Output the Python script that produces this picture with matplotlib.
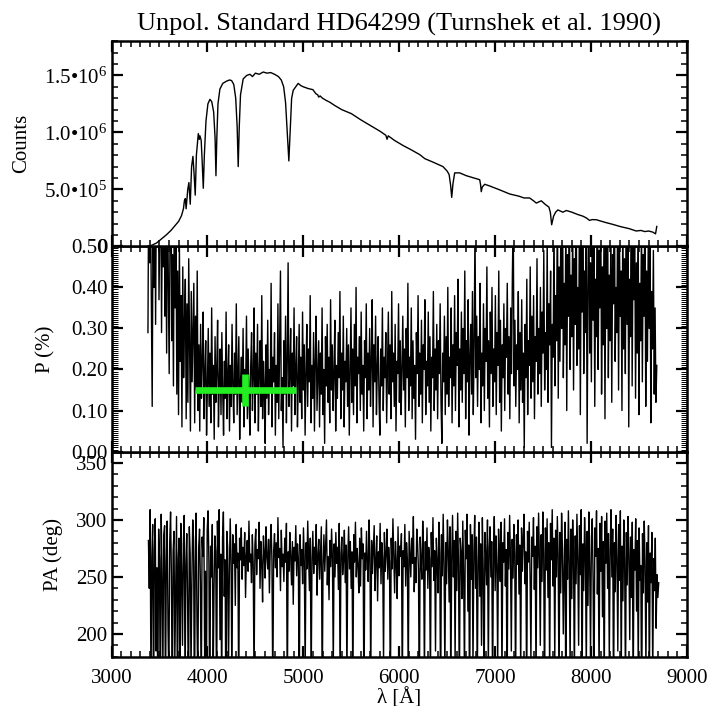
import numpy as np
import matplotlib
matplotlib.use('Agg')
import matplotlib.pyplot as plt
from matplotlib.ticker import MultipleLocator

# ---------------- data ----------------
spec_wl = [3370, 3420, 3470, 3520, 3570, 3620, 3660, 3700, 3730, 3750, 3760, 3770, 3778, 3795,
           3807, 3821, 3835, 3849, 3860, 3873, 3885, 3905, 3915, 3922, 3935, 3945, 3957, 3968,
           3985, 4005, 4026, 4045, 4065, 4080, 4089, 4098, 4110, 4130, 4160, 4200, 4230, 4252,
           4275, 4295, 4310, 4321, 4332, 4345, 4373, 4410, 4443, 4470, 4500, 4540, 4582, 4620,
           4660, 4700, 4740, 4770, 4795, 4815, 4832, 4849, 4862, 4878, 4895, 4920, 4946, 4975,
           5000, 5050, 5100, 5130, 5150, 5160, 5175, 5200, 5240, 5276, 5320, 5400, 5500, 5600,
           5700, 5800, 5860, 5873, 5885, 5950, 6040, 6130, 6214, 6266, 6350, 6456, 6500, 6520,
           6535, 6547, 6560, 6578, 6630, 6700, 6780, 6839, 6848, 6855, 6865, 6891, 6943, 7050,
           7151, 7250, 7300, 7359, 7400, 7429, 7455, 7481, 7520, 7560, 7575, 7589, 7600, 7609,
           7630, 7654, 7680, 7706, 7742, 7800, 7860, 7915, 7950, 7984, 8010, 8054, 8150, 8227,
           8300, 8400, 8470, 8520, 8560, 8600, 8644, 8672, 8685]
spec_cts = [0.0, 0.01, 0.03, 0.065, 0.10, 0.14, 0.18, 0.22, 0.27, 0.33, 0.40, 0.42, 0.33, 0.50,
            0.56, 0.37, 0.70, 0.79, 0.65, 0.45, 0.80, 0.99, 0.94, 0.97, 0.93, 0.75, 0.51, 0.80,
            1.10, 1.25, 1.29, 1.27, 1.18, 0.95, 0.62, 0.95, 1.25, 1.38, 1.43, 1.45, 1.46, 1.455,
            1.42, 1.30, 1.05, 0.70, 1.05, 1.33, 1.47, 1.50, 1.51, 1.49, 1.52, 1.51, 1.53, 1.52,
            1.525, 1.51, 1.49, 1.46, 1.40, 1.26, 1.00, 0.75, 1.00, 1.30, 1.37, 1.40, 1.43, 1.41,
            1.40, 1.385, 1.375, 1.34, 1.33, 1.31, 1.32, 1.30, 1.28, 1.265, 1.24, 1.20, 1.165, 1.11,
            1.06, 1.01, 0.975, 0.94, 0.97, 0.93, 0.885, 0.845, 0.805, 0.77, 0.74, 0.70, 0.66, 0.63,
            0.54, 0.43, 0.55, 0.645, 0.645, 0.62, 0.60, 0.585, 0.54, 0.48, 0.52, 0.545, 0.53, 0.495,
            0.46, 0.44, 0.425, 0.425, 0.40, 0.38, 0.39, 0.40, 0.37, 0.345, 0.30, 0.19, 0.23, 0.265,
            0.30, 0.32, 0.31, 0.30, 0.315, 0.30, 0.28, 0.265, 0.25, 0.228, 0.235, 0.234, 0.21, 0.193,
            0.175, 0.155, 0.135, 0.14, 0.13, 0.135, 0.125, 0.11, 0.175]  # units of 1e6 counts

pol_wl_range = (3380, 8685)
pol_p = [
    0.29, 0.71, 0.46, 0.62, 0.35, 0.11, 0.58, 0.40, 0.83, 0.31, 0.66, 0.52, 0.90, 0.37, 0.55, 0.74, 0.29, 0.61, 0.45, 0.97,
    0.33, 0.58, 0.24, 0.69, 0.41, 0.19, 0.53, 0.77, 0.27, 0.48, 0.16, 0.62, 0.35, 0.55, 0.14, 0.44, 0.09, 0.51, 0.22, 0.38,
    0.06, 0.45, 0.18, 0.31, 0.42, 0.08, 0.36, 0.12, 0.47, 0.25, 0.05, 0.39, 0.17, 0.29, 0.41, 0.07, 0.33, 0.15, 0.44, 0.10,
    0.26, 0.05, 0.31, 0.13, 0.22, 0.34, 0.08, 0.19, 0.27, 0.04, 0.16, 0.30, 0.11, 0.24, 0.07, 0.35, 0.14, 0.21, 0.03, 0.28,
    0.12, 0.20, 0.32, 0.06, 0.17, 0.25, 0.09, 0.29, 0.15, 0.04, 0.22, 0.13, 0.34, 0.08, 0.18, 0.26, 0.05, 0.21, 0.11, 0.31,
    0.16, 0.07, 0.24, 0.14, 0.36, 0.09, 0.19, 0.28, 0.03, 0.17, 0.23, 0.12, 0.30, 0.06, 0.20, 0.15, 0.33, 0.08, 0.25, 0.13,
    0.04, 0.21, 0.29, 0.10, 0.18, 0.35, 0.07, 0.24, 0.14, 0.31, 0.05, 0.19, 0.27, 0.11, 0.38, 0.08, 0.22, 0.16, 0.02, 0.26,
    0.13, 0.32, 0.09, 0.20, 0.15, 0.41, 0.06, 0.23, 0.17, 0.29, 0.04, 0.21, 0.12, 0.36, 0.08, 0.25, 0.44, 0.10, 0.18, 0.01,
    0.27, 0.14, 0.33, 0.07, 0.22, 0.46, 0.11, 0.19, 0.30, 0.05, 0.24, 0.16, 0.35, 0.09, 0.20, 0.28, 0.06, 0.17, 0.31, 0.12,
    0.23, 0.08, 0.34, 0.15, 0.26, 0.04, 0.19, 0.31, 0.11, 0.25, 0.17, 0.38, 0.07, 0.21, 0.13, 0.29, 0.05, 0.22, 0.33, 0.10,
    0.18, 0.27, 0.06, 0.24, 0.14, 0.35, 0.09, 0.20, 0.02, 0.28, 0.16, 0.31, 0.12, 0.23, 0.07, 0.37, 0.15, 0.26, 0.10, 0.19,
    0.32, 0.05, 0.21, 0.13, 0.29, 0.18, 0.39, 0.08, 0.24, 0.15, 0.33, 0.06, 0.22, 0.17, 0.30, 0.11, 0.26, 0.04, 0.19, 0.35,
    0.12, 0.25, 0.09, 0.31, 0.16, 0.40, 0.07, 0.23, 0.19, 0.28, 0.10, 0.34, 0.14, 0.21, 0.05, 0.27, 0.18, 0.36, 0.08, 0.24,
    0.15, 0.30, 0.11, 0.22, 0.37, 0.06, 0.26, 0.17, 0.33, 0.09, 0.20, 0.28, 0.13, 0.04, 0.25, 0.16, 0.35, 0.10, 0.23, 0.18,
    0.29, 0.07, 0.21, 0.34, 0.14, 0.26, 0.08, 0.39, 0.17, 0.24, 0.11, 0.31, 0.05, 0.22, 0.19, 0.36, 0.12, 0.27, 0.09, 0.20,
    0.33, 0.15, 0.25, 0.06, 0.30, 0.18, 0.41, 0.10, 0.23, 0.16, 0.35, 0.08, 0.27, 0.13, 0.21, 0.03, 0.29, 0.19, 0.38, 0.11,
    0.24, 0.14, 0.32, 0.07, 0.26, 0.20, 0.37, 0.09, 0.22, 0.16, 0.34, 0.12, 0.28, 0.05, 0.23, 0.18, 0.39, 0.10, 0.25, 0.15,
    0.31, 0.08, 0.27, 0.19, 0.36, 0.12, 0.02, 0.24, 0.17, 0.33, 0.09, 0.28, 0.14, 0.40, 0.11, 0.23, 0.18, 0.35, 0.07, 0.26,
    0.16, 0.38, 0.10, 0.29, 0.21, 0.42, 0.06, 0.25, 0.15, 0.34, 0.12, 0.30, 0.19, 0.44, 0.08, 0.27, 0.17, 0.37, 0.04, 0.23,
    0.31, 0.14, 0.39, 0.09, 0.26, 0.55, 0.18, 0.33, 0.11, 0.28, 0.20, 0.41, 0.07, 0.24, 0.16, 0.36, 0.10, 0.30, 0.22, 0.45,
    0.13, 0.27, 0.06, 0.34, 0.19, 0.40, 0.11, 0.25, 0.17, 0.38, 0.09, 0.29, 0.21, 0.44, 0.12, 0.32, 0.05, 0.26, 0.18, 0.36,
    0.10, 0.30, 0.23, 0.41, 0.14, 0.28, 0.08, 0.35, 0.19, 0.43, 0.58, 0.16, 0.32, 0.11, 0.26, 0.20, 0.39, 0.07, 0.29, 0.15,
    0.37, 0.12, 0.24, 0.01, 0.31, 0.18, 0.42, 0.09, 0.27, 0.21, 0.45, 0.13, 0.33, 0.17, 0.38, 0.08, 0.28, 0.22, 0.47, 0.14,
    0.30, 0.19, 0.40, 0.11, 0.34, 0.24, 0.49, 0.15, 0.29, 0.20, 0.52, 0.12, 0.36, 0.26, 0.44, 0.01, 0.31, 0.23, 0.57, 0.16,
    0.38, 0.27, 0.62, 0.13, 0.45, 0.22, 0.54, 0.30, 0.70, 0.18, 0.41, 0.26, 0.59, 0.10, 0.48, 0.33, 0.66, 0.20, 0.43, 0.28,
    0.56, 0.15, 0.47, 0.31, 0.73, 0.21, 0.40, 0.25, 0.61, 0.09, 0.50, 0.34, 0.68, 0.19, 0.44, 0.29, 0.57, 0.02, 0.39, 0.64,
    0.24, 0.46, 0.17, 0.60, 0.32, 0.53, 0.11, 0.42, 0.28, 0.75, 0.20, 0.49, 0.35, 0.63, 0.14, 0.45, 0.26, 0.58, 0.08, 0.51,
    0.30, 0.67, 0.18, 0.43, 0.27, 0.55, 0.12, 0.48, 0.36, 0.71, 0.22, 0.40, 0.29, 0.62, 0.15, 0.52, 0.33, 0.44, 0.10, 0.59,
    0.25, 0.47, 0.19, 0.65, 0.31, 0.54, 0.06, 0.42, 0.28, 0.69, 0.16, 0.50, 0.37, 0.57, 0.13, 0.46, 0.24, 0.61, 0.09, 0.41,
    0.27, 0.56, 0.17, 0.48, 0.33, 0.63, 0.11, 0.44, 0.22, 0.53, 0.30, 0.60, 0.07, 0.39, 0.25, 0.49, 0.14, 0.35, 0.12, 0.21,
]

pa_wl_range = (3385, 8705)
pol_pa = [
    282, 240, 309, 150, 268, 296, 120, 274, 301, 185, 258, 140, 292, 265, 110, 305, 248, 170, 287, 295,
    135, 262, 299, 205, 160, 281, 307, 250, 125, 272, 290, 175, 238, 303, 145, 266, 284, 115, 297, 255,
    190, 279, 304, 150, 261, 288, 228, 130, 294, 270, 165, 247, 300, 283, 120, 259, 306, 210, 155, 276,
    292, 245, 138, 285, 268, 302, 180, 255, 140, 291, 308, 263, 118, 277, 250, 296, 160, 240, 286, 272,
    128, 299, 258, 309, 195, 270, 145, 284, 307, 233, 265, 112, 290, 276, 170, 253, 301, 266, 150, 287,
    262, 279, 225, 296, 258, 271, 140, 284, 265, 293, 248, 276, 260, 289, 232, 268, 282, 255, 299, 263,
    270, 245, 287, 261, 155, 278, 292, 252, 274, 266, 298, 240, 281, 262, 228, 286, 271, 249, 294, 268,
    257, 283, 236, 277, 296, 264, 145, 273, 288, 258, 280, 250, 302, 267, 275, 238, 291, 259, 270, 246,
    284, 263, 297, 140, 272, 255, 289, 268, 243, 281, 226, 276, 264, 295, 251, 279, 266, 130, 287, 260,
    274, 244, 293, 262, 165, 280, 257, 299, 270, 238, 284, 150, 266, 290, 253, 276, 261, 296, 234, 269,
    283, 248, 271, 294, 140, 262, 287, 255, 277, 300, 243, 268, 230, 282, 259, 292, 265, 170, 279, 250,
    289, 262, 276, 239, 297, 155, 270, 285, 252, 264, 291, 245, 278, 160, 266, 294, 257, 281, 240, 272,
    145, 287, 263, 298, 250, 275, 260, 236, 284, 242, 293, 266, 279, 130, 271, 256, 290, 262, 246, 300,
    268, 158, 282, 253, 275, 295, 238, 264, 286, 229, 272, 258, 297, 244, 280, 266, 175, 289, 255, 270,
    292, 248, 276, 263, 140, 284, 257, 301, 269, 236, 281, 262, 231, 294, 251, 277, 268, 288, 145, 273,
    259, 296, 242, 280, 265, 155, 290, 271, 250, 284, 262, 303, 237, 267, 245, 292, 278, 256, 135, 285,
    264, 248, 299, 270, 160, 281, 256, 293, 240, 276, 266, 150, 289, 259, 302, 247, 273, 185, 284, 262,
    236, 298, 270, 130, 287, 251, 305, 262, 165, 280, 244, 300, 273, 228, 294, 145, 266, 304, 250, 282,
    175, 290, 238, 306, 260, 140, 284, 272, 231, 299, 255, 160, 291, 266, 305, 220, 278, 125, 296, 248,
    287, 170, 271, 304, 240, 285, 150, 262, 298, 233, 279, 190, 302, 256, 135, 289, 268, 243, 300, 165,
    276, 294, 250, 281, 145, 267, 303, 238, 286, 260, 175, 292, 271, 246, 298, 155, 280, 263, 301, 242,
    274, 130, 289, 257, 304, 266, 185, 283, 249, 296, 270, 150, 287, 261, 300, 235, 278, 165, 293, 255,
    282, 305, 244, 272, 140, 290, 263, 298, 250, 176, 285, 268, 302, 239, 277, 155, 294, 258, 306, 264,
    190, 287, 246, 307, 270, 135, 293, 256, 301, 232, 280, 160, 297, 265, 309, 242, 284, 175, 291, 250,
    303, 268, 145, 289, 236, 306, 275, 200, 258, 298, 120, 283, 248, 308, 262, 170, 292, 231, 300, 271,
    155, 286, 244, 305, 266, 190, 295, 252, 309, 140, 279, 238, 302, 270, 165, 290, 225, 307, 258, 180,
    284, 301, 246, 130, 293, 268, 308, 235, 275, 160, 297, 255, 303, 215, 281, 145, 299, 262, 306, 240,
    288, 175, 272, 309, 250, 292, 135, 280, 237, 304, 266, 185, 296, 247, 308, 160, 277, 229, 300, 265,
    150, 289, 243, 303, 270, 195, 285, 232, 298, 140, 274, 256, 301, 220, 282, 165, 293, 247, 260, 125,
    288, 236, 299, 262, 170, 280, 228, 295, 150, 271, 245, 289, 160, 266, 238, 284, 205, 252, 232, 245,
]

# binned mean polarisation (green cross)
bin_center = 4395
bin_halfwidth = 525
bin_p = 0.15
bin_perr = 0.038

title = "Unpol. Standard HD64299 (Turnshek et al. 1990)"
xticks = [3000, 4000, 5000, 6000, 7000, 8000, 9000]
cts_ticks = [0, 5e5, 1e6, 1.5e6]
cts_labels = ["0", "5.0•10$^5$", "1.0•10$^6$", "1.5•10$^6$"]
p_ticks = [0.0, 0.1, 0.2, 0.3, 0.4, 0.5]
pa_ticks = [200, 250, 300, 350]

# ---------------- style ----------------
plt.rcParams['font.family'] = ['Liberation Serif', 'DejaVu Serif']
plt.rcParams['mathtext.fontset'] = 'custom'
plt.rcParams['mathtext.rm'] = 'Liberation Serif'
plt.rcParams['mathtext.default'] = 'regular'
FS = 15

fig = plt.figure(figsize=(7.09, 7.06), dpi=100)
L = 111.5 / 709
W = 575.5 / 709
h = 0.2906
b3 = 0.0698
ax3 = fig.add_axes([L, b3, W, h])
ax2 = fig.add_axes([L, b3 + h, W, h])
ax1 = fig.add_axes([L, b3 + 2 * h, W, h])

for ax in (ax1, ax2, ax3):
    ax.set_xlim(3000, 9000)
    ax.set_xticks(xticks)
    ax.xaxis.set_minor_locator(MultipleLocator(100))
    ax.tick_params(which='both', direction='in', top=True, right=True, labelsize=FS)
    ax.tick_params(which='major', length=8, width=1.6)
    ax.tick_params(which='minor', length=4, width=1.1)
    ax.tick_params(axis='y', pad=3)
    for s in ax.spines.values():
        s.set_linewidth(1.8)

# top: counts
ax1.plot(spec_wl, np.array(spec_cts) * 1e6, color='black', lw=1.0)
ax1.set_ylim(0, 1.8e6)
ax1.set_yticks(cts_ticks)
ax1.set_yticklabels(cts_labels)
ax1.yaxis.set_minor_locator(MultipleLocator(1e5))
ax1.tick_params(axis='x', labelbottom=False)
ax1.set_ylabel("Counts", fontsize=FS)
ax1.yaxis.set_label_coords(-0.140, 0.5)
ax1.set_title(title, fontsize=19, pad=8)

# middle: P
p_wl = np.linspace(pol_wl_range[0], pol_wl_range[1], len(pol_p))
ax2.plot(p_wl, pol_p, color='black', lw=1.0)
ax2.plot([bin_center - bin_halfwidth, bin_center + bin_halfwidth], [bin_p, bin_p],
         color='#22ee22', lw=4.8, solid_capstyle='butt')
ax2.plot([bin_center, bin_center], [bin_p - bin_perr, bin_p + bin_perr],
         color='#22ee22', lw=4.8, solid_capstyle='butt')
ax2.set_ylim(0, 0.5)
ax2.set_yticks(p_ticks)
ax2.set_yticklabels([f"{v:.2f}" for v in p_ticks])
ax2.yaxis.set_minor_locator(MultipleLocator(0.005))
ax2.tick_params(axis='y', which='minor', width=0.7, length=4)
ax2.tick_params(axis='x', labelbottom=False)
ax2.set_ylabel("P (%)", fontsize=FS)
ax2.yaxis.set_label_coords(-0.0966, 0.5)

# bottom: PA
pa_wl = np.linspace(pa_wl_range[0], pa_wl_range[1], len(pol_pa))
ax3.plot(pa_wl, pol_pa, color='black', lw=1.0)
ax3.set_ylim(180, 360)
ax3.set_yticks(pa_ticks)
ax3.yaxis.set_minor_locator(MultipleLocator(10))
ax3.set_ylabel("PA (deg)", fontsize=FS)
ax3.yaxis.set_label_coords(-0.084, 0.5)
ax3.tick_params(axis='x', pad=9)
ax3.set_xlabel("λ [Å]", fontsize=FS, labelpad=0)

fig.savefig("out.png", dpi=100)
